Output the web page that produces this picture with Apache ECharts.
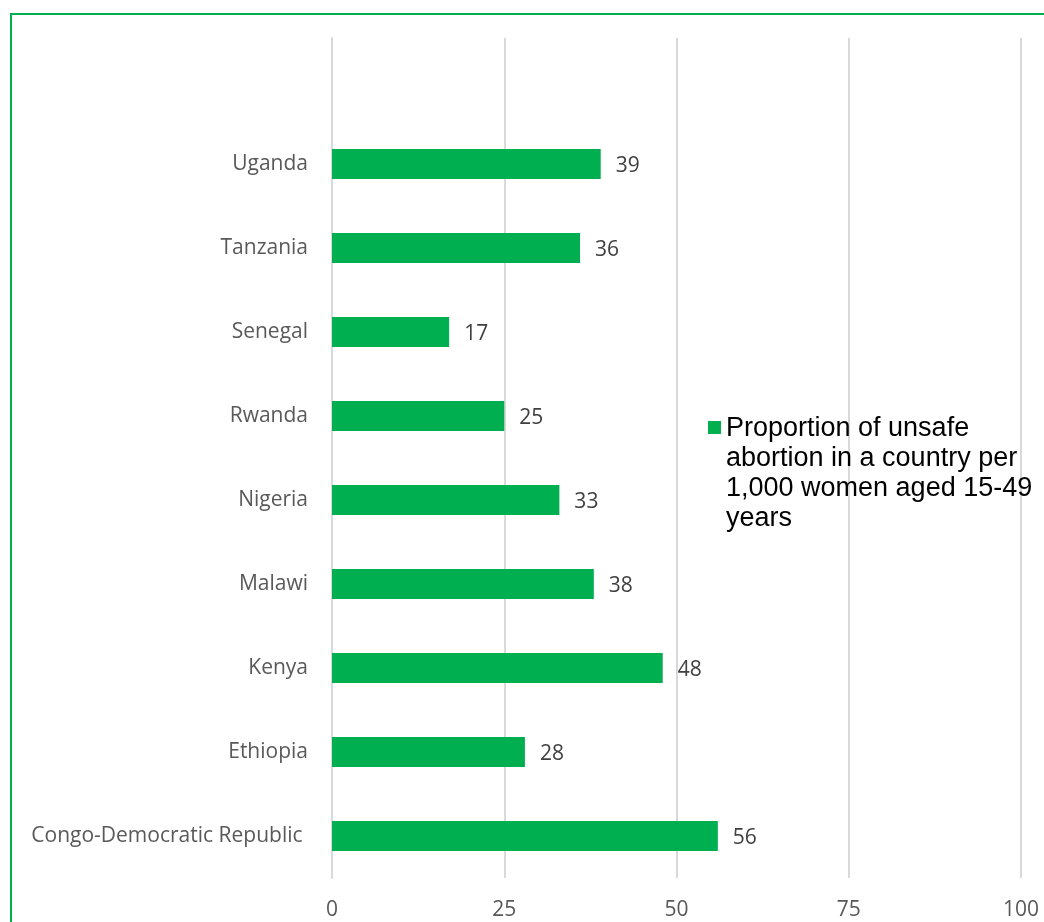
<!DOCTYPE html>
<html>
<head>
<meta charset="utf-8">
<script src="https://cdn.jsdelivr.net/npm/echarts@6/dist/echarts.min.js"></script>
<style>
  html, body { margin: 0; padding: 0; background: #fff; }
  #chart { width: 1044px; height: 922px; }
</style>
</head>
<body>
<div id="chart"></div>
<script>
// categories bottom -> top, empty slot on top like the original plot area
var countries = ['Congo-Democratic Republic ', 'Ethiopia', 'Kenya', 'Malawi', 'Nigeria', 'Rwanda', 'Senegal', 'Tanzania', 'Uganda', ''];
var unsafeRate = [56, 28, 48, 38, 33, 25, 17, 36, 39, null];
var xTicks = [0, 25, 50, 75, 100];
var seriesName = 'Proportion of unsafe\nabortion in a country per\n1,000 women aged 15-49\nyears';

var green = '#00B050';
var labelFont = '"Open Sans", sans-serif';

var myChart = echarts.init(document.getElementById('chart'));
var option = {
    animation: false,
    backgroundColor: '#fff',
    graphic: [{
        type: 'rect',
        shape: { x: 11, y: 14, width: 1060, height: 940 },
        style: { fill: 'none', stroke: green, lineWidth: 2 },
        silent: true
    }],
    grid: { left: 332, right: 23, top: 38, bottom: 44, containLabel: false },
    legend: {
        data: [seriesName],
        left: 703,
        top: 409,
        orient: 'vertical',
        itemWidth: 13,
        itemHeight: 120,
        itemGap: 0,
        // square sits next to the first text line
        icon: 'path://M0 0L0 0.01M0 7H13V20H0ZM0 120L0 119.99',
        textStyle: {
            fontFamily: '"Liberation Sans", Arial, sans-serif',
            fontSize: 27,
            lineHeight: 30,
            color: '#000'
        }
    },
    xAxis: {
        type: 'value',
        min: 0,
        max: 100,
        interval: 25,
        axisLine: { show: false },
        axisTick: { show: false },
        splitLine: { lineStyle: { color: '#d9d9d9', width: 2 } },
        axisLabel: {
            margin: 22,
            color: '#595959',
            fontFamily: labelFont,
            fontSize: 21,
            formatter: function (v) { return xTicks.indexOf(v) >= 0 ? String(v) : ''; }
        }
    },
    yAxis: {
        type: 'category',
        data: countries,
        axisLine: { show: true, lineStyle: { color: '#d9d9d9', width: 2 } },
        axisTick: { show: false },
        axisLabel: {
            margin: 24,
            color: '#595959',
            fontFamily: labelFont,
            fontSize: 21,
            padding: [4, 0, 0, 0]
        }
    },
    series: [{
        name: seriesName,
        type: 'bar',
        data: unsafeRate,
        barWidth: 30,
        itemStyle: { color: green },
        label: {
            show: true,
            position: 'right',
            distance: 15,
            color: '#404040',
            fontFamily: labelFont,
            fontSize: 21,
            offset: [0, 2]
        }
    }]
};
myChart.setOption(option);
window.addEventListener('resize', function () {
    myChart.resize();
});
</script>
</body>
</html>
